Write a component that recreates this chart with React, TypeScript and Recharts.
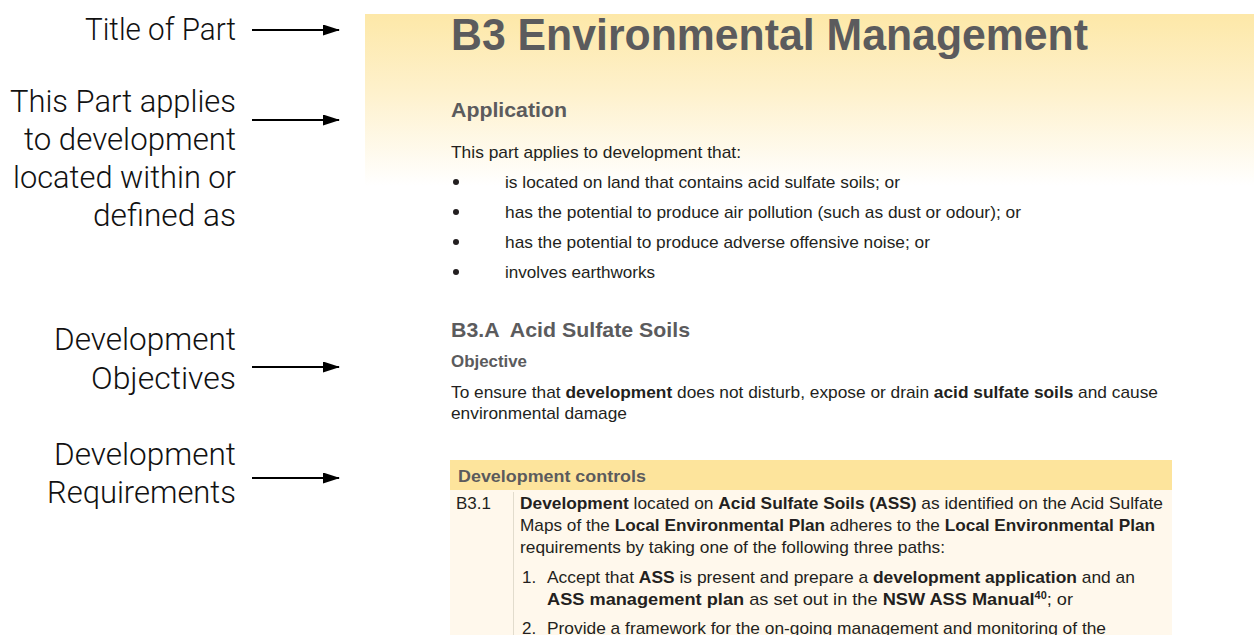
import React from "react";
import { Surface, Layer, Rectangle } from "recharts";

type Seg = [string, boolean] | [string, boolean, "sup"];

// callouts on the left
const CALLOUT_LINES = [
  ["Title of Part"],
  ["This Part applies", "to development", "located within or", "defined as"],
  ["Development", "Objectives"],
  ["Development", "Requirements"],
];

const TITLE = "B3 Environmental Management";
const APPLICATION_HEADING = "Application";
const APPLICATION_INTRO = "This part applies to development that:";
const APPLICATION_BULLETS = [
  "is located on land that contains acid sulfate soils; or",
  "has the potential to produce air pollution (such as dust or odour); or",
  "has the potential to produce adverse offensive noise; or",
  "involves earthworks",
];

const SECTION_HEADING = "B3.A  Acid Sulfate Soils";
const OBJECTIVE_HEADING = "Objective";
const OBJECTIVE_LINES: Seg[][] = [
  [
    ["To ensure that ", false],
    ["development", true],
    [" does not disturb, expose or drain ", false],
    ["acid sulfate soils", true],
    [" and cause", false],
  ],
  [["environmental damage", false]],
];

const CONTROLS_HEADING = "Development controls";
const CONTROL_ID = "B3.1";
const CONTROL_LINES: Seg[][] = [
  [
    ["Development", true],
    [" located on ", false],
    ["Acid Sulfate Soils (ASS)", true],
    [" as identified on the Acid Sulfate", false],
  ],
  [
    ["Maps of the ", false],
    ["Local Environmental Plan", true],
    [" adheres to the ", false],
    ["Local Environmental Plan", true],
  ],
  [["requirements by taking one of the following three paths:", false]],
];
const PATH_NUMBERS = ["1.", "", "2."];
const PATH_LINES: Seg[][] = [
  [
    ["Accept that ", false],
    ["ASS", true],
    [" is present and prepare a ", false],
    ["development application", true],
    [" and an", false],
  ],
  [
    ["ASS management plan", true],
    [" as set out in the ", false],
    ["NSW ASS Manual", true],
    ["40", true, "sup"],
    ["; or", false],
  ],
  [["Provide a framework for the on-going management and monitoring of the", false]],
];

// layout (pixel positions measured from the page)
const CALLOUT_BASELINES = [
  [40],
  [112, 150, 188, 226],
  [350, 389],
  [465, 503],
];
const CALLOUT_WIDTHS = [
  [151],
  [226, 212, 223, 143],
  [182, 145],
  [182, 189],
];
const ARROW_Y = [30, 120, 367, 478];
const BULLET_BASELINES = [188, 218, 248, 278];
const BULLET_WIDTHS = [395, 516, 425, 150];
const OBJECTIVE_BASELINES = [398, 419];
const OBJECTIVE_WIDTHS = [707, 176];
const CONTROL_BASELINES = [509, 531, 553];
const CONTROL_WIDTHS = [643, 635, 425];
const PATH_BASELINES = [583, 605, 634];
const PATH_WIDTHS = [588, 526, 559];

const W = 1254;
const H = 635;
const DOC_FONT = "'Liberation Sans', Arial, Helvetica, sans-serif";
const LABEL_FONT = "Roboto, 'Liberation Sans', sans-serif";
const GRAY = "#5b5b5d";
const INK = "#231f20";

function Rich({
  x,
  y,
  segs,
  width,
  size,
}: {
  x: number;
  y: number;
  segs: Seg[];
  width: number;
  size: number;
}) {
  return (
    <text
      x={x}
      y={y}
      fontFamily={DOC_FONT}
      fontSize={size}
      fill={INK}
      textLength={width}
      lengthAdjust="spacingAndGlyphs"
    >
      {segs.map((s, i) => {
        const sup = s[2] === "sup";
        const prevSup = i > 0 && segs[i - 1][2] === "sup";
        return (
          <tspan
            key={i}
            fontWeight={s[1] ? 700 : 400}
            fontSize={sup ? size * 0.6 : size}
            dy={sup ? -6 : prevSup ? 6 : 0}
          >
            {s[0]}
          </tspan>
        );
      })}
    </text>
  );
}

function Plain({
  x,
  y,
  text,
  width,
  size,
  bold = false,
  fill = INK,
}: {
  x: number;
  y: number;
  text: string;
  width: number;
  size: number;
  bold?: boolean;
  fill?: string;
}) {
  return (
    <text
      x={x}
      y={y}
      fontFamily={DOC_FONT}
      fontSize={size}
      fontWeight={bold ? 700 : 400}
      fill={fill}
      textLength={width}
      lengthAdjust="spacingAndGlyphs"
      style={{ whiteSpace: "pre" }}
    >
      {text}
    </text>
  );
}

export default function App() {
  return (
    <div style={{ position: "absolute", left: 0, top: 0, width: W, height: H, background: "#fff" }}>
      <Surface width={W} height={H} viewBox={{ x: 0, y: 0, width: W, height: H }}>
        <defs>
          <linearGradient id="band" x1="0" y1="0" x2="0" y2="1">
            <stop offset="0%" stopColor="#fde8a8" />
            <stop offset="45%" stopColor="#fef1cc" />
            <stop offset="100%" stopColor="#ffffff" />
          </linearGradient>
          <marker id="head" markerWidth="17" markerHeight="11" refX="16" refY="5.5" orient="auto" markerUnits="userSpaceOnUse">
            <path d="M0,0 L17,5.5 L0,11 Z" fill="#000" />
          </marker>
        </defs>

        {/* yellow band behind title */}
        <Rectangle x={365} y={14} width={W - 365} height={172} fill="url(#band)" />

        {/* callouts */}
        <Layer>
          {CALLOUT_LINES.map((lines, gi) =>
            lines.map((line, li) => (
              <text
                key={`${gi}-${li}`}
                x={236}
                y={CALLOUT_BASELINES[gi][li]}
                textAnchor="end"
                fontFamily={LABEL_FONT}
                fontWeight={300}
                fontSize={31}
                fill="#111"
                textLength={CALLOUT_WIDTHS[gi][li]}
                lengthAdjust="spacingAndGlyphs"
              >
                {line}
              </text>
            ))
          )}
          {ARROW_Y.map((y, i) => (
            <line key={i} x1={252} y1={y} x2={339} y2={y} stroke="#000" strokeWidth={2.2} markerEnd="url(#head)" />
          ))}
        </Layer>

        {/* page content */}
        <Layer>
          <Plain x={451} y={50} text={TITLE} width={637} size={44} bold fill={GRAY} />
          <Plain x={451} y={117} text={APPLICATION_HEADING} width={116} size={21} bold fill={GRAY} />
          <Plain x={451} y={158} text={APPLICATION_INTRO} width={290} size={17} />
          {APPLICATION_BULLETS.map((b, i) => (
            <g key={i}>
              <circle cx={456} cy={BULLET_BASELINES[i] - 6} r={3} fill={INK} />
              <Plain x={505} y={BULLET_BASELINES[i]} text={b} width={BULLET_WIDTHS[i]} size={17} />
            </g>
          ))}

          <Plain x={451} y={337} text={SECTION_HEADING} width={239} size={21} bold fill={GRAY} />
          <Plain x={451} y={367} text={OBJECTIVE_HEADING} width={76} size={17} bold fill={GRAY} />
          {OBJECTIVE_LINES.map((segs, i) => (
            <Rich key={i} x={451} y={OBJECTIVE_BASELINES[i]} segs={segs} width={OBJECTIVE_WIDTHS[i]} size={17} />
          ))}

          {/* controls table */}
          <Rectangle x={450} y={460} width={722} height={30} fill="#fde49c" />
          <Rectangle x={450} y={490} width={722} height={H - 490} fill="#fff8ec" />
          <line x1={513.5} y1={492} x2={513.5} y2={H} stroke="#e2dccd" strokeWidth={1} />
          <Plain x={458} y={482} text={CONTROLS_HEADING} width={188} size={17} bold fill={GRAY} />
          <Plain x={456} y={509} text={CONTROL_ID} width={35} size={17} />
          {CONTROL_LINES.map((segs, i) => (
            <Rich key={i} x={520} y={CONTROL_BASELINES[i]} segs={segs} width={CONTROL_WIDTHS[i]} size={17} />
          ))}
          {PATH_LINES.map((segs, i) => (
            <g key={i}>
              {PATH_NUMBERS[i] && (
                <text x={522} y={PATH_BASELINES[i]} fontFamily={DOC_FONT} fontSize={17} fill={INK}>
                  {PATH_NUMBERS[i]}
                </text>
              )}
              <Rich x={547} y={PATH_BASELINES[i]} segs={segs} width={PATH_WIDTHS[i]} size={17} />
            </g>
          ))}
        </Layer>
      </Surface>
    </div>
  );
}
